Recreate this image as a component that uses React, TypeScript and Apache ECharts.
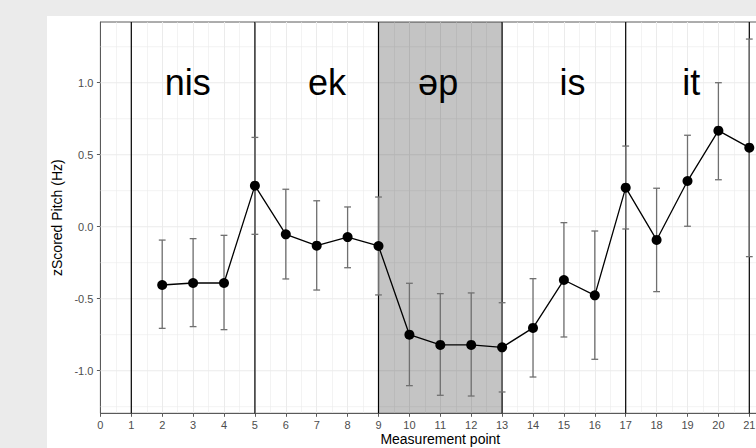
import React, { useEffect, useRef } from "react";
import * as echarts from "echarts";

const xPoints = [2, 3, 4, 5, 6, 7, 8, 9, 10, 11, 12, 13, 14, 15, 16, 17, 18, 19, 20, 21];
const meanPitch = [-0.405, -0.391, -0.391, 0.285, -0.053, -0.132, -0.072, -0.134, -0.75, -0.821, -0.821, -0.838, -0.703, -0.37, -0.477, 0.271, -0.092, 0.317, 0.667, 0.549];
const lowerPitch = [-0.706, -0.694, -0.715, -0.053, -0.363, -0.44, -0.285, -0.474, -1.104, -1.171, -1.176, -1.148, -1.044, -0.766, -0.921, -0.016, -0.451, 0.003, 0.326, -0.208];
const upperPitch = [-0.093, -0.083, -0.06, 0.62, 0.26, 0.18, 0.137, 0.206, -0.393, -0.465, -0.46, -0.528, -0.361, 0.028, -0.03, 0.56, 0.267, 0.635, 1.0, 1.303];

const syllables = ["nis", "ek", "əp", "is", "it"];
const syllableX = [2.83, 7.33, 10.93, 15.28, 19.12];
const syllableY = 1.0;

const boundaries = [1, 5, 9, 13, 17, 21];
const shadeRange = [9, 13];

const yMajorTicks = [-1.0, -0.5, 0.0, 0.5, 1.0];
const yMinorTicks = [-1.25, -0.75, -0.25, 0.25, 0.75, 1.25];

const FONT = "Liberation Sans, Arial, Helvetica, sans-serif";

export default function App() {
  const ref = useRef<HTMLDivElement>(null);

  useEffect(() => {
    if (!ref.current) return;
    const chart = echarts.init(ref.current, undefined, { renderer: "svg" });

    const hLine = (width: number) => (params: any, api: any) => {
      const cs = params.coordSys;
      const y = api.coord([0, api.value(0)])[1];
      return {
        type: "line",
        shape: { x1: cs.x, y1: y, x2: cs.x + cs.width, y2: y },
        style: { stroke: "#ebebeb", lineWidth: width },
      };
    };

    const option: any = {
      animation: false,
      backgroundColor: "transparent",
      textStyle: { fontFamily: FONT },
      grid: {
        left: 53.4,
        top: 6,
        right: 26.8,
        bottom: 34.7,
        containLabel: false,
        outerBoundsMode: "none",
        show: true,
        borderColor: "#5a5a5a",
        borderWidth: 1,
        backgroundColor: "transparent",
      },
      xAxis: {
        type: "value",
        min: 0,
        max: 22,
        interval: 1,
        name: "Measurement point",
        nameLocation: "middle",
        nameGap: 19,
        nameMoveOverlap: false,
        nameTextStyle: { fontSize: 14, color: "#000", fontFamily: FONT, lineHeight: 14, verticalAlign: "top" },
        axisLine: { show: true, onZero: false, lineStyle: { color: "#5a5a5a", width: 1 } },
        axisTick: { show: true, length: 3.5, lineStyle: { color: "#5a5a5a", width: 1 } },
        axisLabel: {
          fontSize: 11,
          color: "#4d4d4d",
          margin: 6,
          fontFamily: FONT,
          formatter: (v: number) => (v > 21 ? "" : String(v)),
        },
        splitLine: { show: true, lineStyle: { color: "#ebebeb", width: 1.07 } },
        minorTick: { show: false, splitNumber: 2 },
        minorSplitLine: { show: true, lineStyle: { color: "#ebebeb", width: 0.6 } },
      },
      yAxis: {
        type: "value",
        min: -1.296,
        max: 1.4215,
        name: "zScored Pitch (Hz)",
        nameLocation: "middle",
        nameRotate: 90,
        nameGap: 31,
        nameTextStyle: { fontSize: 14, color: "#000", fontFamily: FONT },
        axisLine: { show: true, onZero: false, lineStyle: { color: "#5a5a5a", width: 1 } },
        axisTick: { show: true, length: 3.5, customValues: yMajorTicks, lineStyle: { color: "#5a5a5a", width: 1 } },
        axisLabel: {
          fontSize: 11,
          color: "#4d4d4d",
          margin: 7,
          fontFamily: FONT,
          customValues: yMajorTicks,
          formatter: (v: number) => v.toFixed(1),
        },
        splitLine: { show: false },
      },
      series: [
        {
          type: "custom",
          z: 1,
          silent: true,
          renderItem: hLine(0.6),
          data: yMinorTicks.map((v) => [v]),
          encode: { y: 0 },
        },
        {
          type: "custom",
          z: 1,
          silent: true,
          renderItem: hLine(1.07),
          data: yMajorTicks.map((v) => [v]),
          encode: { y: 0 },
        },
        {
          type: "custom",
          z: 2,
          silent: true,
          renderItem: (params: any, api: any) => {
            const cs = params.coordSys;
            const x1 = api.coord([api.value(0), 0])[0];
            const x2 = api.coord([api.value(1), 0])[0];
            return {
              type: "rect",
              shape: { x: x1, y: cs.y, width: x2 - x1, height: cs.height },
              style: { fill: "rgba(0,0,0,0.23)" },
            };
          },
          data: [[shadeRange[0], shadeRange[1]]],
          encode: { x: [0, 1] },
        },
        {
          type: "custom",
          z: 3,
          silent: true,
          renderItem: (params: any, api: any) => {
            const cs = params.coordSys;
            const x = api.coord([api.value(0), 0])[0];
            return {
              type: "line",
              shape: { x1: x, y1: cs.y, x2: x, y2: cs.y + cs.height },
              style: { stroke: "#000", lineWidth: 1.2 },
            };
          },
          data: boundaries.map((b) => [b]),
          encode: { x: 0 },
        },
        {
          type: "custom",
          z: 4,
          silent: true,
          renderItem: (params: any, api: any) => {
            const x = api.value(0);
            const lo = api.coord([x, api.value(1)]);
            const hi = api.coord([x, api.value(2)]);
            const cap = 3.4;
            const st = { stroke: "#707070", lineWidth: 1.3 };
            return {
              type: "group",
              children: [
                { type: "line", shape: { x1: lo[0], y1: lo[1], x2: hi[0], y2: hi[1] }, style: st },
                { type: "line", shape: { x1: lo[0] - cap, y1: lo[1], x2: lo[0] + cap, y2: lo[1] }, style: st },
                { type: "line", shape: { x1: hi[0] - cap, y1: hi[1], x2: hi[0] + cap, y2: hi[1] }, style: st },
              ],
            };
          },
          data: xPoints.map((x, i) => [x, lowerPitch[i], upperPitch[i]]),
          encode: { x: 0, y: [1, 2] },
        },
        {
          type: "line",
          z: 5,
          data: xPoints.map((x, i) => [x, meanPitch[i]]),
          symbol: "circle",
          symbolSize: 10,
          showSymbol: true,
          itemStyle: { color: "#000" },
          lineStyle: { color: "#000", width: 1.3 },
        },
        {
          type: "custom",
          z: 6,
          silent: true,
          renderItem: (params: any, api: any) => {
            const p = api.coord([api.value(0), api.value(1)]);
            return {
              type: "text",
              x: p[0],
              y: p[1],
              style: {
                text: syllables[params.dataIndex],
                fontSize: 36,
                fontFamily: FONT,
                fill: "#000",
                align: "center",
                verticalAlign: "middle",
              },
            };
          },
          data: syllableX.map((x) => [x, syllableY]),
          encode: { x: 0, y: 1 },
        },
      ],
    };

    chart.setOption(option);
    return () => chart.dispose();
  }, []);

  return (
    <div
      style={{
        position: "fixed",
        left: 0,
        top: 0,
        width: 756,
        height: 448,
        overflow: "hidden",
        background: "#ebebeb",
      }}
    >
      <div
        style={{
          position: "absolute",
          left: 47,
          top: 16,
          width: 760,
          height: 432,
          background: "#ffffff",
        }}
      >
        <div ref={ref} style={{ width: 760, height: 432 }} />
      </div>
    </div>
  );
}
